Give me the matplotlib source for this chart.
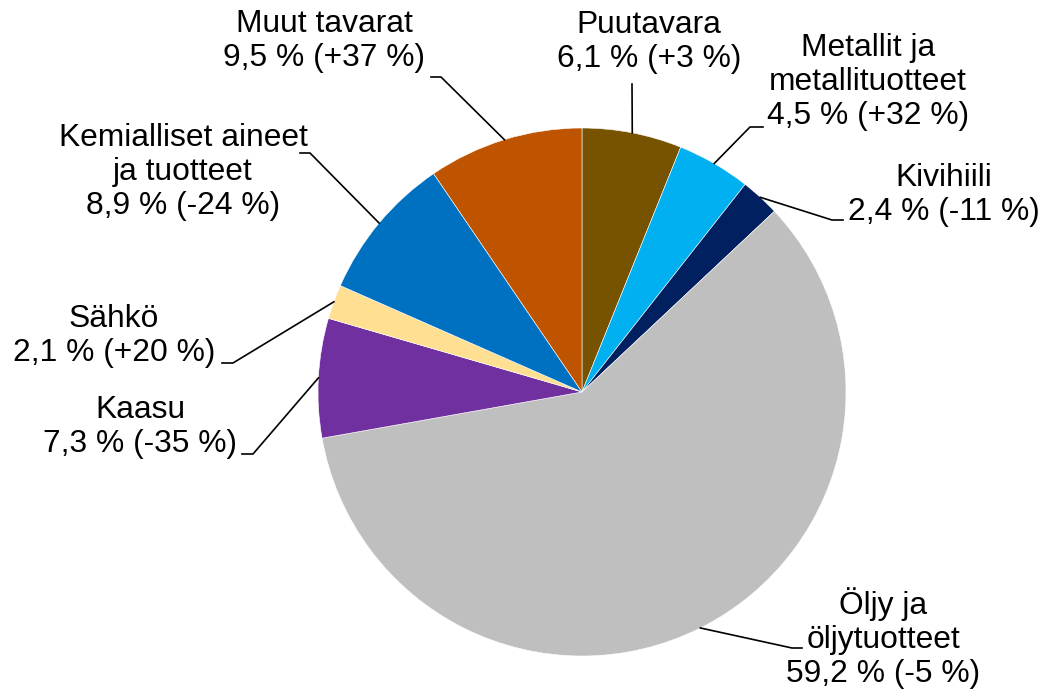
import numpy as np
import matplotlib
matplotlib.use("Agg")
import matplotlib.pyplot as plt

# Shares clockwise from 12 o'clock
names = ["Puutavara", "Metallit ja\nmetallituotteet", "Kivihiili", "Öljy ja\nöljytuotteet",
         "Kaasu", "Sähkö", "Kemialliset aineet\nja tuotteet", "Muut tavarat"]
shares = [6.1, 4.5, 2.4, 59.2, 7.3, 2.1, 8.9, 9.5]
changes = ["+3", "+32", "-11", "-5", "-35", "+20", "-24", "+37"]
colors = ["#775300", "#00B0F0", "#002060", "#BEBFBE", "#7030A0", "#FFDF91", "#0070C0", "#BF5400"]

# label centres and leader elbow (pixel coords, y from top)
label_pos = [(649, 42), (868, 82), (944, 195), (883, 638),
             (140, 427), (114, 336), (183, 172), (324, 41)]
elbows = [(632, 84, 632), (750, 127, 763), (832, 220, 843), (792, 648, 802),
          (253, 454, 242), (233, 363, 222), (310, 153, 300), (441, 77, 431)]

W, H = 1043, 690
cx, cy, r = 582, 392, 264

fig = plt.figure(figsize=(W / 100, H / 100), dpi=100)
ax = fig.add_axes([0, 0, 1, 1])

ax.pie(shares, colors=colors, startangle=90, counterclock=False,
       center=(cx, H - cy), radius=r, frame=True,
       wedgeprops=dict(edgecolor="white", linewidth=0.4))
ax.set_xlim(0, W)
ax.set_ylim(0, H)
ax.axis("off")

cum = np.cumsum([0] + shares[:-1])
for i, name in enumerate(names):
    mid = (cum[i] + shares[i] / 2) / 100 * 2 * np.pi
    px = cx + r * np.sin(mid)
    py = cy - r * np.cos(mid)
    ex, ey, hx = elbows[i]
    ax.plot([px, ex, hx], [H - py, H - ey, H - ey], color="black", lw=1.2)
    txt = f"{name}\n{shares[i]:.1f} % ({changes[i]} %)".replace(".", ",")
    lx, ly = label_pos[i]
    ax.text(lx, H - ly, txt, ha="center", va="center", fontsize=22.9,
            family="Liberation Sans", linespacing=1.17)

fig.savefig("out.png", dpi=100, facecolor="white")
